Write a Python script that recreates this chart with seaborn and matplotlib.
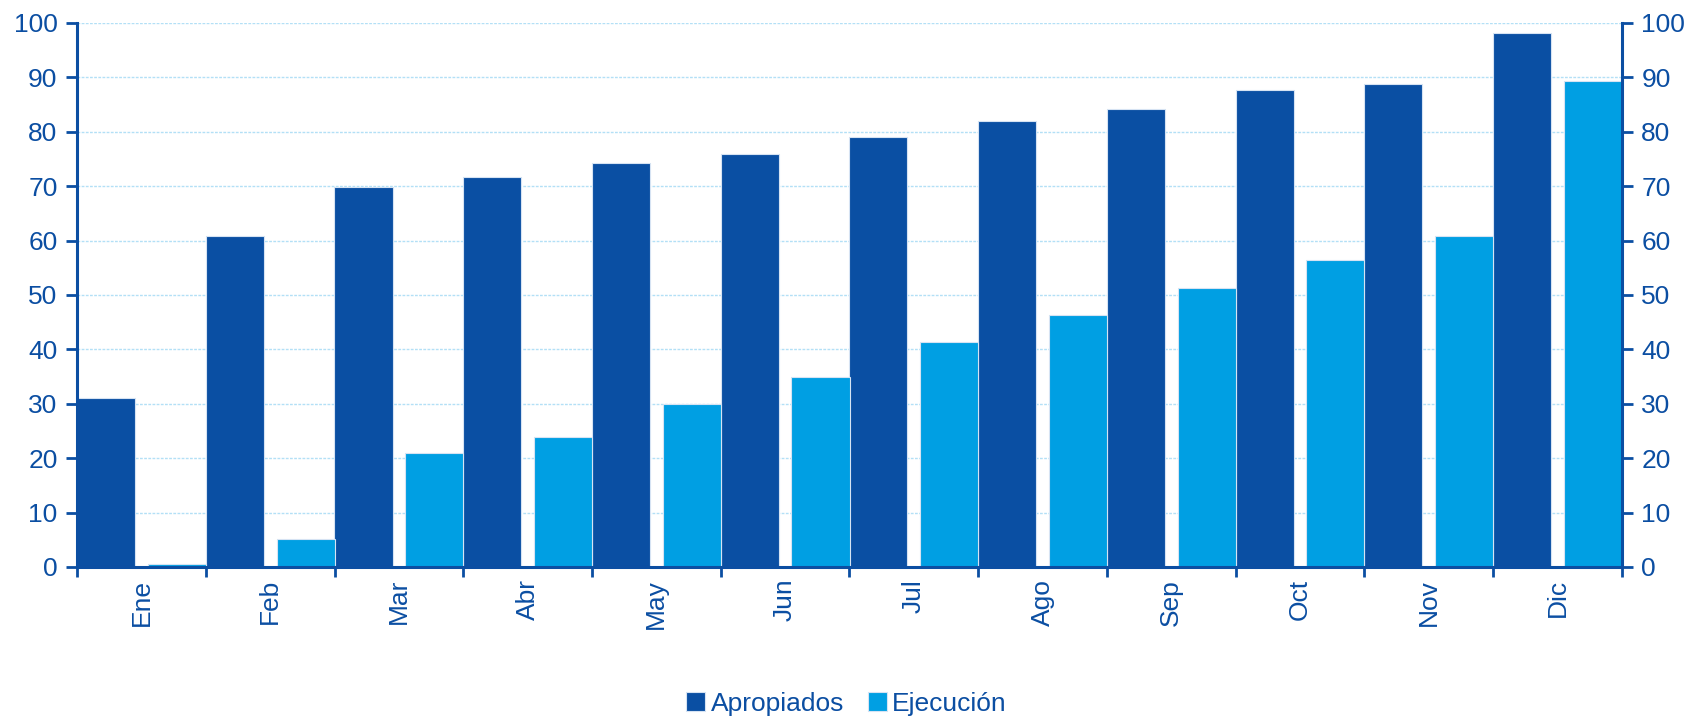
import numpy as np
import pandas as pd
import matplotlib
matplotlib.use("Agg")
import matplotlib.pyplot as plt
import seaborn as sns

months = ["Ene", "Feb", "Mar", "Abr", "May", "Jun", "Jul", "Ago", "Sep", "Oct", "Nov", "Dic"]
apropiados = [31.0, 60.9, 69.9, 71.7, 74.2, 76.0, 79.0, 82.0, 84.1, 87.6, 88.8, 98.1]
ejecucion = [0.6, 5.2, 20.9, 23.9, 30.0, 35.0, 41.3, 46.3, 51.2, 56.5, 60.9, 89.4]
series_names = ["Apropiados", "Ejecución"]
yticks = [0, 10, 20, 30, 40, 50, 60, 70, 80, 90, 100]

df = pd.DataFrame({
    "mes": months * 2,
    "valor": apropiados + ejecucion,
    "serie": [series_names[0]] * len(months) + [series_names[1]] * len(months),
})

sns.set_theme(style="white")
plt.rcParams["font.family"] = ["Liberation Sans", "DejaVu Sans"]

TXT = "#0B4EA2"
DARK = "#0A4FA3"
LIGHT = "#009FE3"

fig = plt.figure(figsize=(16.93, 7.21), dpi=100)
ax = fig.add_axes([0.0455, 0.2136, 0.9125, 0.7545])

sns.barplot(data=df, x="mes", y="valor", hue="serie", order=months,
            hue_order=series_names, palette=[DARK, LIGHT], width=1.1, gap=0.18,
            edgecolor="#D6E3F3", linewidth=0.8, saturation=1, ax=ax)

ax.set_xlim(-0.5, len(months) - 0.5)
ax.set_ylim(0, 100)
ax.set_yticks(yticks)
ax.set_yticklabels([str(v) for v in yticks])
ax.set_xlabel("")
ax.set_ylabel("")

# grid
ax.set_axisbelow(True)
ax.yaxis.grid(True, color="#B3E0F6", linestyle=(0, (2, 1)), linewidth=1.0)
ax.xaxis.grid(False)

# x ticks: marks at boundaries, labels at centres
ax.set_xticks(np.arange(len(months) + 1) - 0.5)
ax.set_xticklabels([])
ax.set_xticks(np.arange(len(months)), minor=True)
ax.set_xticklabels(months, minor=True, rotation=90, fontsize=19, color=TXT)
ax.tick_params(axis="x", which="major", direction="out", length=7, width=2, color=TXT, bottom=True)
ax.tick_params(axis="x", which="minor", length=0, pad=8.5)
ax.tick_params(axis="y", which="major", direction="out", length=8, width=2, color=TXT,
               left=True, right=True, labelleft=True, labelright=True, labelsize=19,
               labelcolor=TXT, pad=6)

for s in ["left", "right", "bottom"]:
    ax.spines[s].set_visible(True)
    ax.spines[s].set_color(TXT)
    ax.spines[s].set_linewidth(2.2)
ax.spines["top"].set_visible(False)

handles, labels = ax.get_legend_handles_labels()
if ax.get_legend() is not None:
    ax.get_legend().remove()
fig.legend(handles, labels, loc="lower center", bbox_to_anchor=(0.5, -0.026), ncol=2,
           frameon=False, fontsize=19, handlelength=0.72, handleheight=0.72,
           handletextpad=0.2, columnspacing=0.9, labelcolor=TXT)

fig.savefig("out.png", dpi=100)
